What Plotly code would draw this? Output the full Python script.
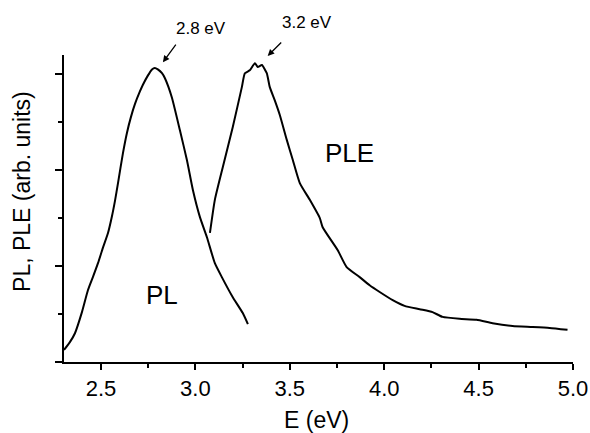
import plotly.graph_objects as go

# Photoluminescence spectrum (PL)
pl_energy = [2.304, 2.336, 2.362, 2.399, 2.431, 2.457, 2.484, 2.510, 2.537, 2.558,
             2.574, 2.590, 2.616, 2.637, 2.658, 2.680, 2.706, 2.722, 2.748, 2.770,
             2.785, 2.801, 2.823, 2.838, 2.875, 2.918, 2.955, 2.987, 3.024, 3.061,
             3.103, 3.140, 3.198, 3.251, 3.278]
pl_intensity = [0.25, 0.42, 0.60, 1.04, 1.50, 1.77, 2.06, 2.38, 2.69, 3.04,
                3.36, 3.73, 4.35, 4.77, 5.10, 5.38, 5.64, 5.78, 5.97, 6.10,
                6.13, 6.10, 6.02, 5.92, 5.52, 4.83, 4.21, 3.58, 3.02, 2.60,
                2.06, 1.77, 1.35, 1.02, 0.79]

# Photoluminescence excitation spectrum (PLE)
ple_energy = [3.077, 3.103, 3.145, 3.198, 3.246, 3.262, 3.288, 3.315, 3.330, 3.352,
              3.378, 3.394, 3.420, 3.447, 3.484, 3.516, 3.553, 3.606, 3.659, 3.674,
              3.754, 3.801, 3.870, 3.923, 3.976, 4.045, 4.108, 4.188, 4.256, 4.309,
              4.399, 4.489, 4.574, 4.680, 4.785, 4.876, 4.971]
ple_intensity = [2.69, 3.38, 4.06, 4.90, 5.73, 6.02, 6.08, 6.23, 6.15, 6.19,
                 6.02, 5.73, 5.46, 5.15, 4.63, 4.21, 3.73, 3.38, 3.00, 2.81,
                 2.33, 1.98, 1.77, 1.60, 1.46, 1.29, 1.17, 1.10, 1.04, 0.94,
                 0.90, 0.88, 0.81, 0.75, 0.73, 0.71, 0.67]

x_ticks = [2.5, 3.0, 3.5, 4.0, 4.5, 5.0]
x_tick_labels = ["2.5", "3.0", "3.5", "4.0", "4.5", "5.0"]

FONT = "Liberation Sans, Arial, Helvetica, sans-serif"
X_RANGE = [2.304, 5.0]
Y_RANGE = [0, 6.4]

fig = go.Figure()
fig.add_trace(go.Scatter(x=pl_energy, y=pl_intensity, mode="lines",
                         line=dict(color="black", width=2, shape="spline", smoothing=0.5),
                         showlegend=False))
fig.add_trace(go.Scatter(x=ple_energy, y=ple_intensity, mode="lines",
                         line=dict(color="black", width=2, shape="spline", smoothing=0.5),
                         showlegend=False))

# peak markers with arrows
fig.add_annotation(x=2.828, y=6.25, ax=14, ay=-19, text="", showarrow=True,
                   arrowhead=2, arrowsize=1, arrowwidth=1.3, arrowcolor="black")
fig.add_annotation(x=3.383, xref="x", y=0.997, yref="paper", ax=15, ay=-15, text="",
                   showarrow=True, arrowhead=2, arrowsize=1, arrowwidth=1.3,
                   arrowcolor="black")
fig.add_annotation(x=3.029, xref="x", y=1.085, yref="paper", text="2.8 eV",
                   xanchor="center", yanchor="middle",
                   showarrow=False, font=dict(size=17, color="black", family=FONT))
fig.add_annotation(x=3.590, xref="x", y=1.107, yref="paper", text="3.2 eV",
                   xanchor="center", yanchor="middle",
                   showarrow=False, font=dict(size=17, color="black", family=FONT))

# curve labels
fig.add_annotation(x=2.823, y=1.40, text="PL", showarrow=False,
                   xanchor="center", yanchor="middle",
                   font=dict(size=26, color="black", family=FONT))
fig.add_annotation(x=3.817, y=4.35, text="PLE", showarrow=False,
                   xanchor="center", yanchor="middle",
                   font=dict(size=26, color="black", family=FONT))

# axis titles
fig.add_annotation(x=0.496, xref="paper", y=-0.189, yref="paper", text="E (eV)",
                   xanchor="center", yanchor="middle",
                   showarrow=False, font=dict(size=23, color="black", family=FONT))
fig.add_annotation(x=-0.0825, xref="paper", y=0.554, yref="paper",
                   text="PL, PLE (arb. units)", textangle=-90,
                   xanchor="center", yanchor="middle",
                   showarrow=False, font=dict(size=23, color="black", family=FONT))

fig.update_layout(
    width=590, height=433,
    margin=dict(l=64, r=17, t=55, b=71),
    paper_bgcolor="white", plot_bgcolor="white",
    font=dict(family=FONT, color="black"),
)
fig.update_xaxes(
    range=X_RANGE, showgrid=False, zeroline=False, automargin=False,
    showline=True, linecolor="black", linewidth=2,
    tickvals=x_ticks, ticktext=x_tick_labels,
    ticks="outside", ticklen=6, tickwidth=2, tickcolor="black",
    tickfont=dict(size=22, family=FONT),
    minor=dict(dtick=0.25, tick0=2.25, ticks="outside", ticklen=4, tickwidth=1.5,
               tickcolor="black"),
)
fig.update_yaxes(
    range=Y_RANGE, showgrid=False, zeroline=False, automargin=False,
    showline=True, linecolor="black", linewidth=2,
    dtick=2, tick0=0, showticklabels=False,
    ticks="outside", ticklen=7, tickwidth=2, tickcolor="black",
    minor=dict(dtick=1, tick0=0, ticks="outside", ticklen=4, tickwidth=1.5,
               tickcolor="black"),
)

fig.write_html("out.html")
